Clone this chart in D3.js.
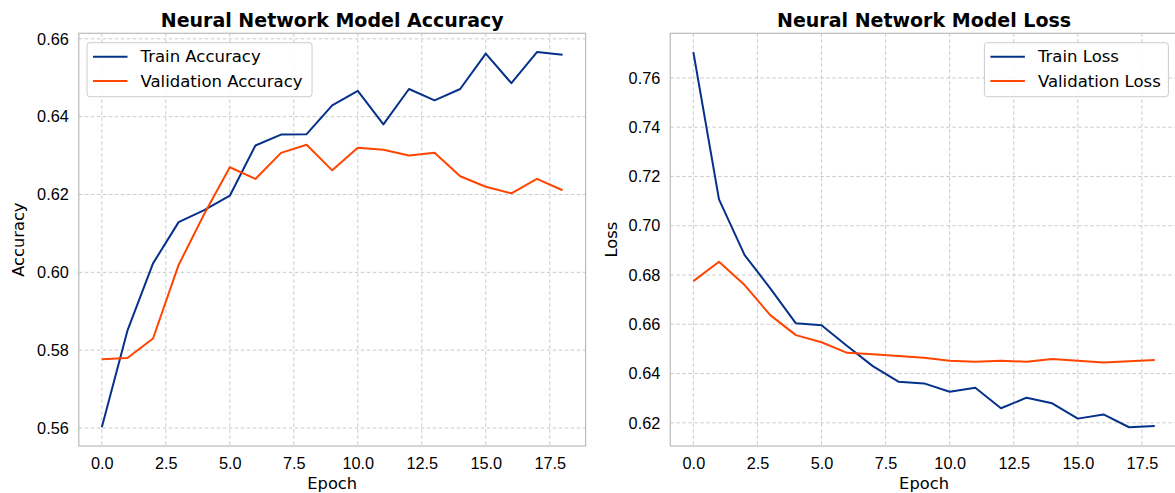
<!DOCTYPE html>
<html>
<head>
<meta charset="utf-8">
<script src="https://cdn.jsdelivr.net/npm/d3@7"></script>
<style>
  body { margin: 0; background: #fff; }
  svg { display: block; font-family: "DejaVu Sans", sans-serif; }
  .grid line { stroke: #c4c4c4; stroke-width: 0.9; stroke-dasharray: 3.5,2.5; }
  .tick-label { font-size: 16.3px; fill: #000; }
  .axis-label { font-size: 16.3px; fill: #000; }
  .chart-title { font-size: 19px; font-weight: bold; fill: #000; }
  .legend-text { font-size: 16.5px; fill: #000; }
</style>
</head>
<body>
<svg id="chart" width="1175" height="493"></svg>
<script>
// Per-epoch training history
const epochs = d3.range(0, 19);
const trainAccuracy = [0.5602, 0.5850, 0.6023, 0.6129, 0.6160, 0.6197, 0.6326, 0.6354, 0.6355, 0.6429,
    0.6466, 0.6380, 0.6471, 0.6442, 0.6471, 0.6562, 0.6486, 0.6566, 0.6559];
const valAccuracy = [0.5777, 0.5780, 0.5830, 0.6019, 0.6150, 0.6270, 0.6240, 0.6307, 0.6328, 0.6262,
    0.6320, 0.6315, 0.6300, 0.6307, 0.6247, 0.6220, 0.6203, 0.6240, 0.6211];
const trainLoss = [0.7705, 0.7107, 0.6881, 0.6746, 0.6604, 0.6596, 0.6512, 0.6430, 0.6367, 0.6360,
    0.6326, 0.6342, 0.6259, 0.6302, 0.6279, 0.6217, 0.6234, 0.6182, 0.6187];
const valLoss = [0.6775, 0.6854, 0.6759, 0.6637, 0.6556, 0.6527, 0.6484, 0.6478, 0.6471, 0.6464,
    0.6452, 0.6448, 0.6452, 0.6448, 0.6459, 0.6452, 0.6445, 0.6450, 0.6455];

const xTicks = [0, 2.5, 5, 7.5, 10, 12.5, 15, 17.5];
const accTicks = [0.56, 0.58, 0.60, 0.62, 0.64, 0.66];
const lossTicks = [0.62, 0.64, 0.66, 0.68, 0.70, 0.72, 0.74, 0.76];

const trainColor = "#05318a";
const valColor = "#ff4500";

const svg = d3.select("#chart");

// matplotlib-like autoscale with 5% padding
function padded(values) {
    const [lo, hi] = d3.extent(values);
    const m = (hi - lo) * 0.05;
    return [lo - m, hi + m];
}

function drawPanel(opts) {
    const { left, top, width, height } = opts;
    const g = svg.append("g").attr("transform", `translate(${left},${top})`);

    const x = d3.scaleLinear().domain(padded(epochs)).range([0, width]);
    const y = d3.scaleLinear()
        .domain(padded(opts.series[0].values.concat(opts.series[1].values)))
        .range([height, 0]);

    // Grid
    const grid = g.append("g").attr("class", "grid");
    grid.selectAll(".gx").data(xTicks).enter().append("line")
        .attr("x1", d => x(d)).attr("x2", d => x(d))
        .attr("y1", 0).attr("y2", height);
    grid.selectAll(".gy").data(opts.yTicks).enter().append("line")
        .attr("x1", 0).attr("x2", width)
        .attr("y1", d => y(d)).attr("y2", d => y(d));

    // Lines
    const line = d3.line().x((d, i) => x(epochs[i])).y(d => y(d));
    opts.series.forEach(s => {
        g.append("path")
            .datum(s.values)
            .attr("fill", "none")
            .attr("stroke", s.color)
            .attr("stroke-width", 2)
            .attr("stroke-linejoin", "round")
            .attr("d", line);
    });

    // Frame
    g.append("rect")
        .attr("x", 0).attr("y", 0)
        .attr("width", width).attr("height", height)
        .attr("fill", "none")
        .attr("stroke", "#bdbdbd")
        .attr("stroke-width", 1.25);

    // Axes (no tick marks, matplotlib whitegrid look)
    const xAxis = g.append("g")
        .attr("transform", `translate(0,${height})`)
        .call(d3.axisBottom(x).tickValues(xTicks).tickSize(0).tickPadding(11)
            .tickFormat(d3.format(".1f")));
    xAxis.select(".domain").remove();
    xAxis.selectAll("text").attr("class", "tick-label").attr("font-family", null).attr("font-size", null);

    const yAxis = g.append("g")
        .call(d3.axisLeft(y).tickValues(opts.yTicks).tickSize(0).tickPadding(10)
            .tickFormat(d3.format(".2f")));
    yAxis.select(".domain").remove();
    yAxis.selectAll("text").attr("class", "tick-label").attr("font-family", null).attr("font-size", null);

    // Labels
    g.append("text")
        .attr("class", "axis-label")
        .attr("x", width / 2).attr("y", height + 43)
        .attr("text-anchor", "middle")
        .text("Epoch");

    g.append("text")
        .attr("class", "axis-label")
        .attr("transform", `translate(${opts.yLabelX},${height / 2}) rotate(-90)`)
        .attr("text-anchor", "middle")
        .text(opts.yLabel);

    g.append("text")
        .attr("class", "chart-title")
        .attr("x", width / 2).attr("y", -6.5)
        .attr("text-anchor", "middle")
        .text(opts.title);

    // Legend
    const legW = opts.legendWidth, legH = 54;
    const lx = opts.legendRight ? width - 9.4 - legW : 8.2;
    const leg = g.append("g").attr("transform", `translate(${lx},9.4)`);
    leg.append("rect")
        .attr("width", legW).attr("height", legH)
        .attr("rx", 3)
        .attr("fill", "#fff").attr("fill-opacity", 0.85)
        .attr("stroke", "#cccccc").attr("stroke-width", 1);
    opts.series.forEach((s, i) => {
        const cy = 14 + i * 24.3;
        leg.append("line")
            .attr("x1", 6).attr("x2", 40.5)
            .attr("y1", cy).attr("y2", cy)
            .attr("stroke", s.color).attr("stroke-width", 2);
        leg.append("text")
            .attr("class", "legend-text")
            .attr("x", 53.5).attr("y", cy)
            .attr("dy", "0.35em")
            .text(s.name);
    });
}

drawPanel({
    id: "acc",
    left: 78.8, top: 33.3, width: 506.8, height: 412.7,
    title: "Neural Network Model Accuracy",
    yLabel: "Accuracy", yLabelX: -55,
    yTicks: accTicks,
    legendWidth: 225, legendRight: false,
    series: [
        { name: "Train Accuracy", values: trainAccuracy, color: trainColor },
        { name: "Validation Accuracy", values: valAccuracy, color: valColor }
    ]
});

drawPanel({
    id: "loss",
    left: 670.3, top: 33.3, width: 507.5, height: 412.7,
    title: "Neural Network Model Loss",
    yLabel: "Loss", yLabelX: -53,
    yTicks: lossTicks,
    legendWidth: 184, legendRight: true,
    series: [
        { name: "Train Loss", values: trainLoss, color: trainColor },
        { name: "Validation Loss", values: valLoss, color: valColor }
    ]
});
</script>
</body>
</html>
